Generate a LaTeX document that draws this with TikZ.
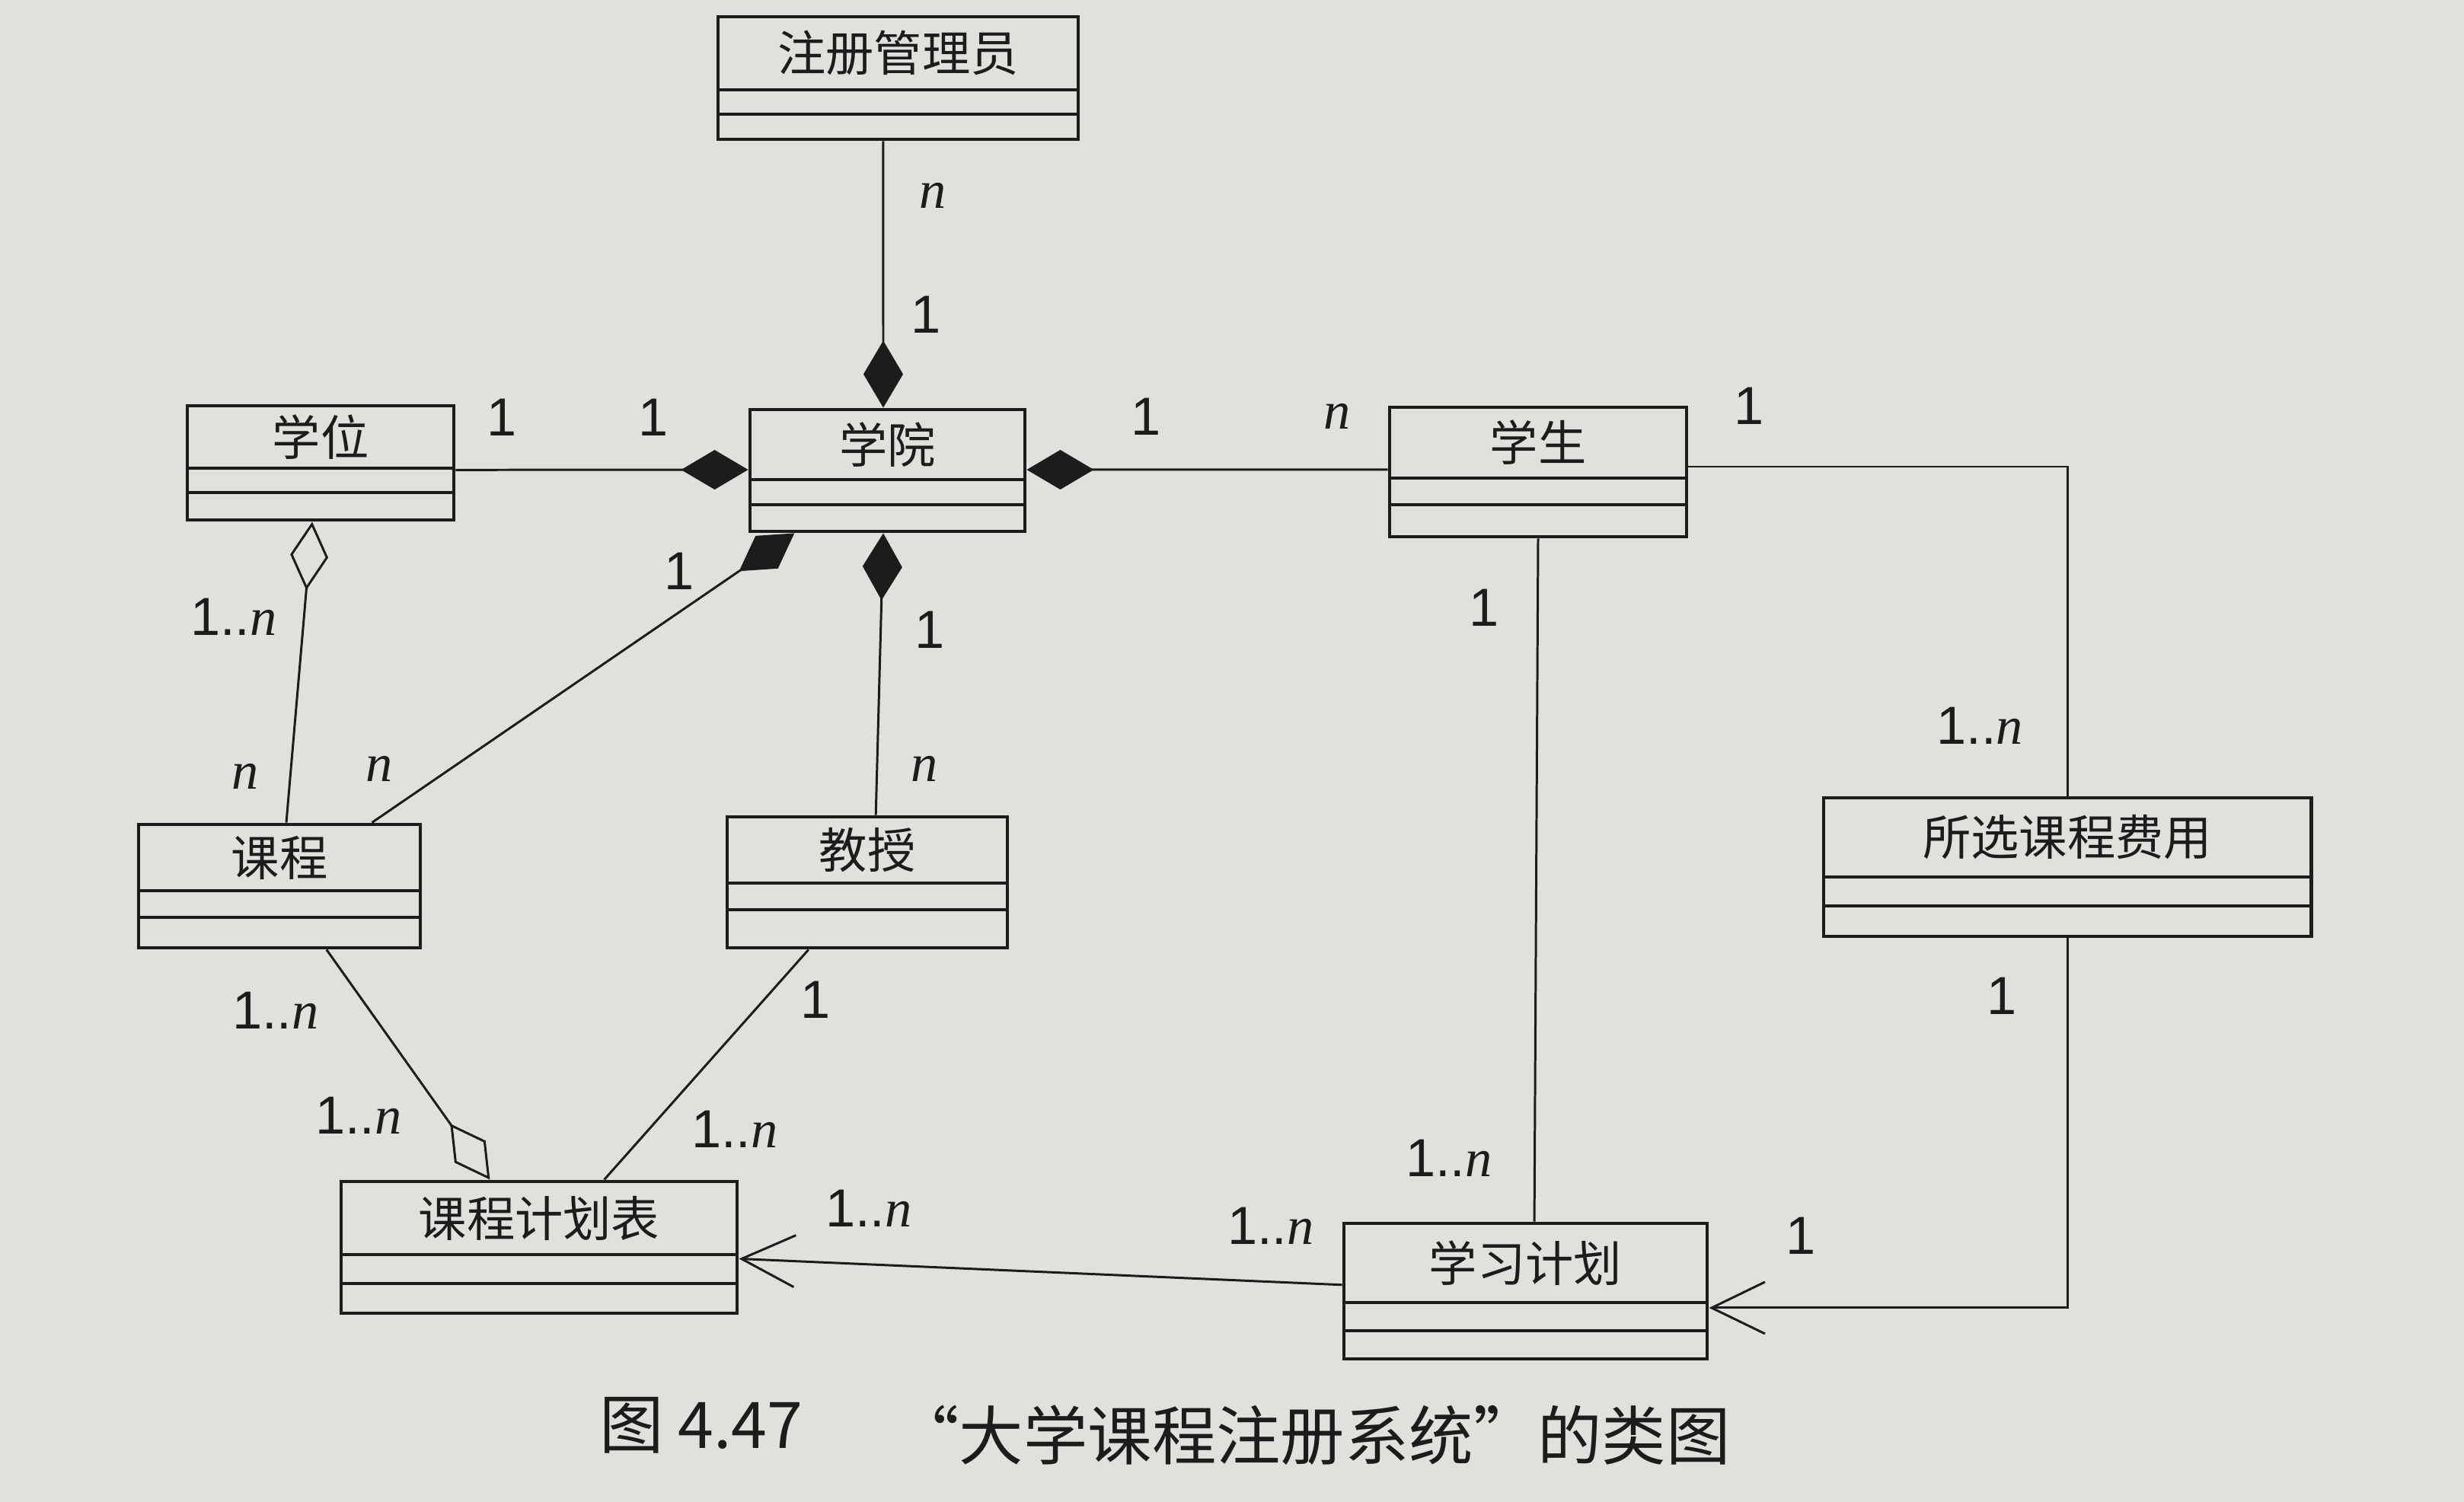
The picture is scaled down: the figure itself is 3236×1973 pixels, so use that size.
\documentclass[tikz,border=0pt]{standalone}
\usepackage{fontspec}
\setmainfont{Liberation Sans}
\newfontfamily\cjk{Noto Sans CJK SC}
\newfontfamily\tms{Liberation Serif}
\usetikzlibrary{arrows.meta,fit,calc}
\definecolor{paper}{RGB}{224,224,221}
\definecolor{ink}{RGB}{28,28,28}
\newcommand\ital{{\tms\itshape n}}
% #1 name, #2 x1, #3 y1, #4 x2, #5 y2, #6 first divider, #7 second divider, #8 class name
\newcommand\umlcls[8]{%
  \node[clsframe, fit={(#2,#3) (#4,#5)}] (#1) {};
  \draw[clsline] (#2,#6) -- (#4,#6);
  \draw[clsline] (#2,#7) -- (#4,#7);
  \node[clsname] (#1-name) at ({(#2+#4)/2},{(#3+#6)/2}) {#8};
}
\tikzset{
  clsframe/.style={draw=ink, line width=1.4pt, inner sep=0pt},
  clsline/.style={draw=ink, line width=1.2pt},
  clsname/.style={font=\cjk\fontsize{18}{20}\selectfont, text=ink, inner sep=0pt},
  conn/.style={draw=ink, line width=0.85pt},
  comp/.tip={Diamond[length=0.88cm,width=0.52cm]},
  aggr/.tip={Diamond[open,length=0.9cm,width=0.5cm]},
  nav/.tip={Straight Barb[length=0.7cm,width=0.68cm]},
  mult/.style={font=\fontsize{20}{22}\selectfont, text=ink, inner sep=0pt},
  caption/.style={font=\cjk\fontsize{24}{26}\selectfont, text=ink, inner sep=0pt}
}
\begin{document}
\begin{tikzpicture}[x=0.01cm,y=-0.01cm]
\fill[paper] (0,0) rectangle (3236,1973);
\useasboundingbox (0,0) rectangle (3236,1973);

% classes
\umlcls{reg}{943}{22}{1416}{183}{118}{150}{注册管理员}
\umlcls{college}{985}{538}{1346}{698}{630}{663}{学院}
\umlcls{degree}{246}{533}{596}{683}{615}{647}{学位}
\umlcls{student}{1825}{535}{2215}{705}{628}{663}{学生}
\umlcls{course}{182}{1083}{552}{1245}{1170}{1205}{课程}
\umlcls{prof}{955}{1073}{1323}{1245}{1160}{1195}{教授}
\umlcls{fee}{2395}{1048}{3035}{1230}{1152}{1190}{所选课程费用}
\umlcls{sched}{448}{1552}{968}{1725}{1648}{1686}{课程计划表}
\umlcls{study}{1765}{1607}{2242}{1785}{1711}{1748}{学习计划}

% connectors
\draw[conn,-comp] ($(reg.south west)!0.459!(reg.south east)$) -- ($(college.north west)!0.485!(college.north east)$);
\draw[conn,-comp] ($(degree.north east)!0.56!(degree.south east)$) -- ($(college.north west)!0.494!(college.south west)$);
\draw[conn,-comp] ($(student.north west)!0.482!(student.south west)$) -- ($(college.north east)!0.494!(college.south east)$);
\draw[conn,-comp] ($(course.north west)!0.824!(course.north east)$) -- ($(college.south west)!0.166!(college.south east)$);
\draw[conn,-comp] ($(prof.north west)!0.53!(prof.north east)$) -- ($(college.south west)!0.485!(college.south east)$);
\draw[conn,aggr-] ($(degree.south west)!0.469!(degree.south east)$) -- ($(course.north west)!0.524!(course.north east)$);
\draw[conn,-aggr] ($(course.south west)!0.665!(course.south east)$) -- ($(sched.north west)!0.377!(sched.north east)$);
\draw[conn] ($(prof.south west)!0.293!(prof.south east)$) -- ($(sched.north west)!0.663!(sched.north east)$);
\draw[conn] ($(student.south west)!0.5!(student.south east)$) -- ($(study.north west)!0.524!(study.north east)$);
\draw[conn] ($(student.north east)!0.46!(student.south east)$) -| ($(fee.north west)!0.5!(fee.north east)$);
\draw[conn,-nav] ($(fee.south west)!0.5!(fee.south east)$) |- ($(study.north east)!0.62!(study.south east)$);
\draw[conn,-nav] ($(study.north west)!0.455!(study.south west)$) -- ($(sched.north east)!0.584!(sched.south east)$);

% multiplicities
\node[mult] (m1) at (1225,257) {\ital};
\node[mult] (m2) at (1216,413) {1};
\node[mult] (m3) at (659,548) {1};
\node[mult] (m4) at (858,548) {1};
\node[mult] (m5) at (1505,547) {1};
\node[mult] (m6) at (1756,547) {\ital};
\node[mult] (m7) at (2297,533) {1};
\node[mult] (m8) at (892,750) {1};
\node[mult] (m9) at (498,1010) {\ital};
\node[mult] (m10) at (307,810) {1..\ital};
\node[mult] (m11) at (322,1020) {\ital};
\node[mult] (m12) at (1221,827) {1};
\node[mult] (m13) at (1214,1010) {\ital};
\node[mult] (m14) at (1949,798) {1};
\node[mult] (m15) at (1903,1521) {1..\ital};
\node[mult] (m16) at (2600,953) {1..\ital};
\node[mult] (m17) at (2629,1308) {1};
\node[mult] (m18) at (2365,1623) {1};
\node[mult] (m19) at (362,1327) {1..\ital};
\node[mult] (m20) at (471,1465) {1..\ital};
\node[mult] (m21) at (1071,1313) {1};
\node[mult] (m22) at (965,1483) {1..\ital};
\node[mult] (m23) at (1141,1587) {1..\ital};
\node[mult] (m24) at (1669,1610) {1..\ital};

% caption
\node[caption] (capnum) at (921,1872) {图 4.47};
\node[caption] (captext) at (1724,1885) {“大学课程注册系统”的类图};
\end{tikzpicture}
\end{document}
